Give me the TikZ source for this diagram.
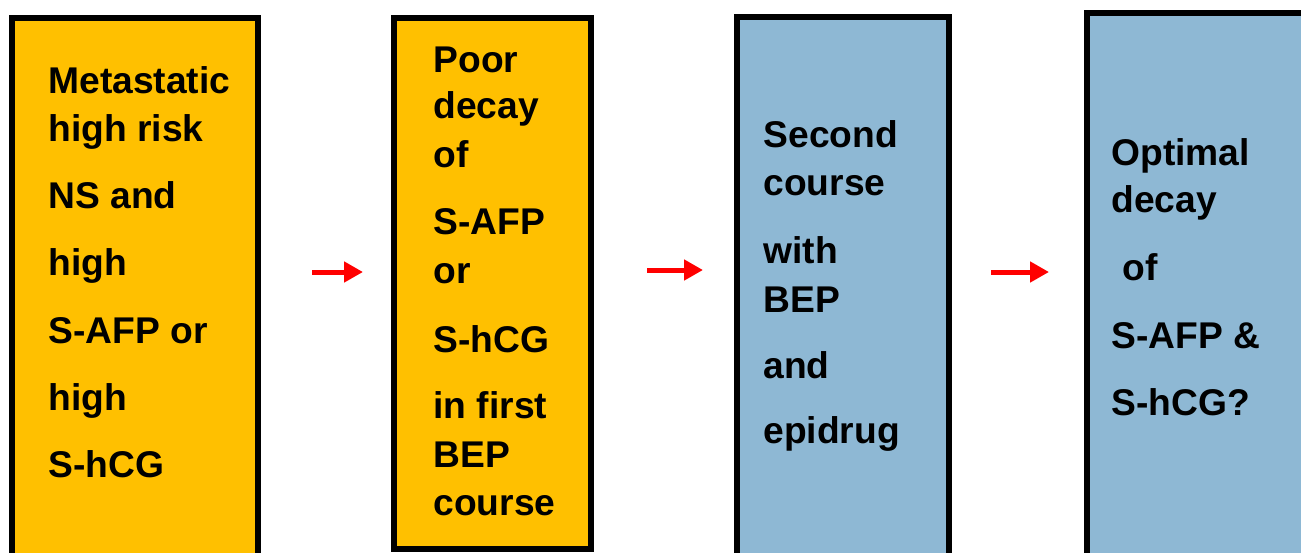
\documentclass[tikz,border=0pt]{standalone}
\usepackage{fontspec}
\setmainfont{Liberation Sans}
\usetikzlibrary{arrows.meta}
\definecolor{boxorange}{HTML}{FFC000}
\definecolor{boxblue}{HTML}{8EB8D4}
\definecolor{arrred}{HTML}{FF0000}
\tikzset{
  flowbox/.style={draw=black, line width=6pt, inner sep=0pt, outer sep=0pt, anchor=north west},
  orangebox/.style={flowbox, fill=boxorange},
  bluebox/.style={flowbox, fill=boxblue},
  txt/.style={anchor=base west, inner sep=0pt, outer sep=0pt, font=\fontsize{37.2}{40}\selectfont\bfseries},
  redarrow/.style={draw=arrred, line width=5pt, -{Triangle[length=19pt 0 0, width=20pt 0 0]}}
}
\begin{document}
\begin{tikzpicture}[x=1pt, y=-1pt]
\useasboundingbox (0,0) rectangle (1301,552);
\clip (0,0) rectangle (1301,552);
% boxes
\node[orangebox, minimum width=246pt, minimum height=560pt] (b1) at (12,17.5) {};
\node[orangebox, minimum width=197pt, minimum height=531pt] (b2) at (394,18) {};
\node[bluebox, minimum width=212pt, minimum height=560pt] (b3) at (737,17) {};
\node[bluebox, minimum width=260pt, minimum height=560pt] (b4) at (1087,13) {};
% texts
\foreach \y/\t [count=\i] in {93/Metastatic, 141/high risk, 208/NS and, 275/high, 343/S-AFP or, 410/high, 477/S-hCG}
  \node[txt] (ta\i) at (48.5,\y) {\t};
\foreach \y/\t [count=\i] in {72/Poor, 118/decay, 167/of, 234/S-AFP, 283/or, 352/S-hCG, 418/in first, 467/BEP, 515/course}
  \node[txt] (tb\i) at (433.5,\y) {\t};
\foreach \y/\t [count=\i] in {147/Second, 195/course, 263/with, 312/BEP, 378/and, 443/epidrug}
  \node[txt] (tc\i) at (763.5,\y) {\t};
\node[txt] (td1) at (1111.5,165) {Optimal};
\node[txt] (td2) at (1111.5,212) {decay};
\node[txt] (td3) at (1122.5,280) {of};
\node[txt] (td4) at (1111.5,348) {S-AFP \&};
\node[txt] (td5) at (1111.5,415) {S-hCG?};
% arrows
\coordinate (a1s) at (312,272);
\coordinate (a1e) at (363,272);
\coordinate (a2s) at (647,270);
\coordinate (a2e) at (703,270);
\coordinate (a3s) at (991,272);
\coordinate (a3e) at (1049,272);
\draw[redarrow] (a1s) -- (a1e);
\draw[redarrow] (a2s) -- (a2e);
\draw[redarrow] (a3s) -- (a3e);
\end{tikzpicture}
\end{document}
